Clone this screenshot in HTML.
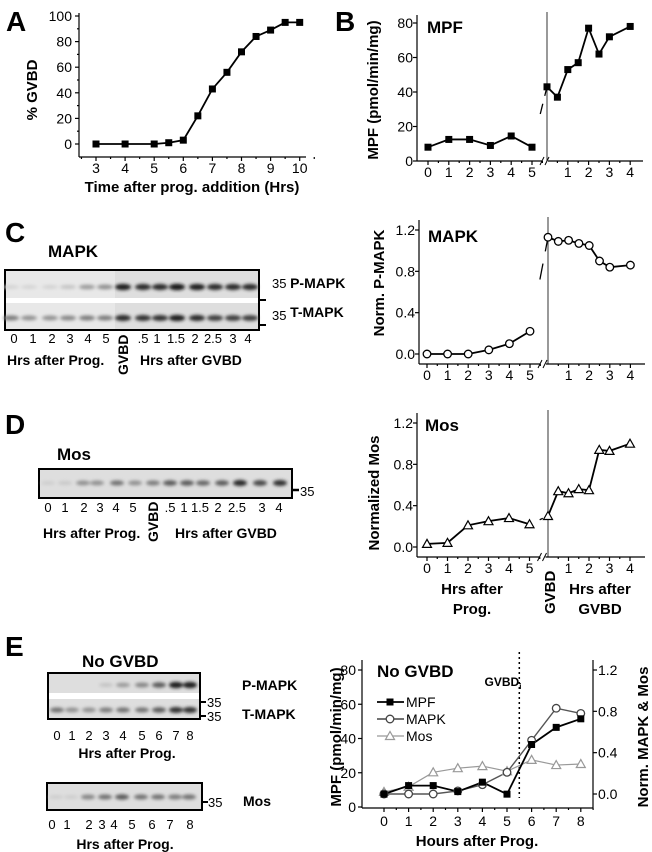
<!DOCTYPE html>
<html><head><meta charset="utf-8"><style>
html,body{margin:0;padding:0;background:#fff;}
svg{display:block;font-family:"Liberation Sans",Arial,sans-serif;}
.b{font-weight:bold;}
</style></head><body>
<svg id="fig" width="652" height="852" viewBox="0 0 652 852" xmlns="http://www.w3.org/2000/svg">
<defs><filter id="blur" x="-50%" y="-50%" width="200%" height="200%"><feGaussianBlur stdDeviation="1.5"/></filter></defs>
<text x="6" y="31" class="b" font-size="28">A</text>
<text x="335" y="31" class="b" font-size="28">B</text>
<text x="5" y="242" class="b" font-size="28">C</text>
<text x="5" y="434" class="b" font-size="28">D</text>
<text x="5" y="656" class="b" font-size="28">E</text>

<text transform="translate(37,90) rotate(-90)" text-anchor="middle" class="b" font-size="15">% GVBD</text>
<text x="192" y="192" text-anchor="middle" class="b" font-size="15">Time after prog. addition (Hrs)</text>
<text transform="translate(378,90) rotate(-90)" text-anchor="middle" class="b" font-size="15">MPF (pmol/min/mg)</text>
<text x="427" y="33" class="b" font-size="17">MPF</text>

<text x="48" y="257" class="b" font-size="17">MAPK</text>
<text transform="translate(384,283) rotate(-90)" text-anchor="middle" class="b" font-size="15">Norm. P-MAPK</text>
<text x="428" y="242" class="b" font-size="17">MAPK</text>
<text x="272" y="288" font-size="13">35 <tspan class="b" font-size="14">P-MAPK</tspan></text>
<text x="272" y="320" font-size="13">35 <tspan class="b" font-size="14" dy="-3">T-MAPK</tspan></text>
<text x="7" y="365" class="b" font-size="14">Hrs after Prog.</text>
<text x="140" y="365" class="b" font-size="14">Hrs after GVBD</text>
<text transform="translate(128,375) rotate(-90)" class="b" font-size="14">GVBD</text>

<text x="57" y="460" class="b" font-size="17">Mos</text>
<text x="300" y="496" font-size="13">35</text>
<text x="43" y="538" class="b" font-size="14">Hrs after Prog.</text>
<text x="175" y="538" class="b" font-size="14">Hrs after GVBD</text>
<text transform="translate(158,542) rotate(-90)" class="b" font-size="14">GVBD</text>
<text transform="translate(379,493) rotate(-90)" text-anchor="middle" class="b" font-size="15">Normalized Mos</text>
<text x="425" y="431" class="b" font-size="17">Mos</text>
<text x="472" y="594" text-anchor="middle" class="b" font-size="15">Hrs after</text>
<text x="472" y="614" text-anchor="middle" class="b" font-size="15">Prog.</text>
<text transform="translate(555,614) rotate(-90)" class="b" font-size="15">GVBD</text>
<text x="600" y="594" text-anchor="middle" class="b" font-size="15">Hrs after</text>
<text x="600" y="614" text-anchor="middle" class="b" font-size="15">GVBD</text>

<text x="82" y="667" class="b" font-size="17">No GVBD</text>
<text x="242" y="690" class="b" font-size="14">P-MAPK</text>
<text x="242" y="719" class="b" font-size="14">T-MAPK</text>
<text x="207" y="707" font-size="13">35</text>
<text x="207" y="721" font-size="13">35</text>
<text x="127" y="758" text-anchor="middle" class="b" font-size="14">Hrs after Prog.</text>
<text x="243" y="806" class="b" font-size="14">Mos</text>
<text x="208" y="807" font-size="13">35</text>
<text x="125" y="849" text-anchor="middle" class="b" font-size="14">Hrs after Prog.</text>
<text transform="translate(341,737) rotate(-90)" text-anchor="middle" class="b" font-size="15">MPF (pmol/min/mg)</text>
<text transform="translate(648,737) rotate(-90)" text-anchor="middle" class="b" font-size="15">Norm. MAPK &amp; Mos</text>
<text x="477" y="846" text-anchor="middle" class="b" font-size="15">Hours after Prog.</text>
<text x="377" y="677" class="b" font-size="17">No GVBD</text>
<text x="503" y="686" text-anchor="middle" class="b" font-size="12">GVBD<tspan font-size="8" dy="3">i</tspan></text>
</svg>
<script>
// ---------- DATA ----------
const aHours=[3,4,5,5.5,6,6.5,7,7.5,8,8.5,9,9.5,10];
const aGVBD=[0,0,0,1,3,22,43,56,72,84,89,95,95];
const aYTicks=[0,20,40,60,80,100];
const aXTicks=[3,4,5,6,7,8,9,10];

const bLeftHours=[0,1,2,3,4,5];
const bLeftMPF=[8,12.5,12.5,9,14.5,8];
const bRightHours=[0,0.5,1,1.5,2,2.5,3,4];
const bRightMPF=[43,37,53,57,77,62,72,78];
const bYTicks=[0,20,40,60,80];

const cLeftHours=[0,1,2,3,4,5];
const cLeftMAPK=[0,0,0,0.04,0.1,0.22];
const cRightHours=[0,0.5,1,1.5,2,2.5,3,4];
const cRightMAPK=[1.13,1.09,1.1,1.07,1.05,0.9,0.84,0.86];
const cYTicks=[0,0.4,0.8,1.2];

const dLeftHours=[0,1,2,3,4,5];
const dLeftMos=[0.03,0.04,0.21,0.25,0.28,0.22];
const dRightHours=[0,0.5,1,1.5,2,2.5,3,4];
const dRightMos=[0.3,0.54,0.52,0.56,0.55,0.94,0.93,1.0];
const dYTicks=[0,0.4,0.8,1.2];

const eHours=[0,1,2,3,4,5,6,7,8];
const eMPF=[7.5,12.5,12.5,9,14.5,7.5,36.5,46.5,51.5];
const eMAPK=[0,0,0,0.03,0.09,0.21,0.52,0.83,0.78];
const eMos=[0.02,0.07,0.21,0.25,0.27,0.22,0.33,0.28,0.29];
const eYTicks=[0,20,40,60,80];
const eY2Ticks=[0,0.4,0.8,1.2];

const cLaneLabels=["0","1","2","3","4","5","",".5","1","1.5","2","2.5","3","4"];
const cPBand=[0.02,0.02,0.03,0.1,0.3,0.35,0.9,0.85,0.85,0.95,0.9,0.85,0.85,0.85];
const cTBand=[0.45,0.35,0.35,0.4,0.45,0.45,0.85,0.8,0.8,0.9,0.85,0.75,0.75,0.75];
const dLaneLabels=["0","1","2","3","4","5","",".5","1","1.5","2","2.5","3","4"];
const dMosBand=[0.05,0.08,0.35,0.35,0.5,0.35,0.45,0.6,0.6,0.55,0.6,0.85,0.7,0.8];
const eLaneLabels=["0","1","2","3","4","5","6","7","8"];
const ePBand=[0,0,0,0.1,0.3,0.4,0.6,0.9,0.9];
const eTBand=[0.5,0.35,0.35,0.45,0.5,0.5,0.6,0.8,0.8];
const eMosBand=[0.05,0.05,0.4,0.5,0.6,0.5,0.5,0.45,0.5];

// ---------- HELPERS ----------
const svg=document.getElementById('fig');
const NS='http://www.w3.org/2000/svg';
function mk(tag,attrs,parent){const e=document.createElementNS(NS,tag);for(const k in attrs)e.setAttribute(k,attrs[k]);(parent||svg).appendChild(e);return e;}
function line(x1,y1,x2,y2,w,col,dash){const l=mk('line',{x1,y1,x2,y2,stroke:col||'#000','stroke-width':w||1.2});if(dash)l.setAttribute('stroke-dasharray',dash);return l;}
function txt(x,y,s,fs,anchor){const t=mk('text',{x,y,'font-size':fs||14,'text-anchor':anchor||'middle'});t.textContent=s;return t;}
function marker(type,x,y,col){
  let m;
  if(type==='sq'){m=mk('rect',{x:x-3.5,y:y-3.5,width:7,height:7,fill:col||'#000'});}
  else if(type==='ci'){m=mk('circle',{cx:x,cy:y,r:3.8,fill:'#fff',stroke:col||'#000','stroke-width':1.3});}
  else {m=mk('polygon',{points:`${x},${y-4.5} ${x-4.5},${y+3.5} ${x+4.5},${y+3.5}`,fill:'#fff',stroke:col||'#000','stroke-width':1.2});}
  return m;
}
function polyline(pts,col,w){return mk('polyline',{points:pts.map(p=>p.join(',')).join(' '),fill:'none',stroke:col||'#000','stroke-width':w||1.8});}

// ---------- PANEL A ----------
{
  const X=h=>96+(h-3)*29.1, Y=v=>144-v*1.28;
  line(79,13,79,157);line(79,157,306,157);
  aYTicks.forEach(v=>{line(75,Y(v),79,Y(v));const t=txt(72,Y(v)+5,String(v),14,'end');
    
    });
  for(let v=10;v<=100;v+=20)line(77,Y(v),79,Y(v));
  aXTicks.forEach(h=>{line(X(h),157,X(h),161);const t=txt(X(h),173,String(h),14);
    
    });
  for(let h=2.5;h<=10.5;h+=1)line(X(h),157,X(h),159);
  const p=polyline(aHours.map((h,i)=>[X(h),Y(aGVBD[i])]));
  
  
  aHours.forEach((h,i)=>{const m=marker('sq',X(h),Y(aGVBD[i]));
    
    });
}

function brokenChart(cfg){
  const {ax,ay0,axisY,xL0,xR0,dx,yScale,ticks,fmt,Lh,Lv,Rh,Rv,type,name,yAxisTop,axisEnd}=cfg;
  const Y=v=>ay0-v*yScale, XL=h=>xL0+h*dx, XR=h=>xR0+h*dx;
  line(ax,yAxisTop,ax,axisY);
  line(ax,axisY,XL(5)+10,axisY);
  line(XL(5)+16,axisY,axisEnd,axisY);
  line(XL(5)+8,axisY+4,XL(5)+12,axisY-4,1);line(XL(5)+13,axisY+4,XL(5)+17,axisY-4,1);
  line(xR0,yAxisTop-3,xR0,axisY,0.8);
  ticks.forEach(v=>{line(ax-4,Y(v),ax,Y(v));const t=txt(ax-4,Y(v)+5,fmt(v),14,'end');
    
    });
  [0,1,2,3,4,5].forEach(h=>{line(XL(h),axisY,XL(h),axisY+4);line(XL(h)+dx/2,axisY,XL(h)+dx/2,axisY+2);
    const t=txt(XL(h),axisY+16,String(h),14);
    
    });
  [1,2,3,4].forEach(h=>{line(XR(h),axisY,XR(h),axisY+4);line(XR(h)-dx/2,axisY,XR(h)-dx/2,axisY+2);
    const t=txt(XR(h),axisY+16,String(h),14);
    
    });
  const pl=polyline(Lh.map((h,i)=>[XL(h),Y(Lv[i])]));
  
  
  const pr=polyline(Rh.map((h,i)=>[XR(h),Y(Rv[i])]));
  
  
  const x1=XL(Lh[Lh.length-1]),y1=Y(Lv[Lv.length-1]),x2=XR(Rh[0]),y2=Y(Rv[0]);
  const f=t=>[x1+(x2-x1)*t,y1+(y2-y1)*t];
  const a=f(0.55),b=f(0.72),c=f(0.85);
  line(a[0],a[1],b[0],b[1],1.3);line(c[0],c[1],x2,y2,1.3);
  Lh.forEach((h,i)=>{const m=marker(type,XL(h),Y(Lv[i]));
    
    });
  Rh.forEach((h,i)=>{const m=marker(type,XR(h),Y(Rv[i]));
    
    });
}
brokenChart({ax:417,ay0:161,axisY:161,xL0:428,xR0:547,dx:20.8,yScale:138/80,ticks:bYTicks,fmt:v=>String(v),
  Lh:bLeftHours,Lv:bLeftMPF,Rh:bRightHours,Rv:bRightMPF,type:'sq',name:'b-mpf',yAxisTop:15,axisEnd:643});
brokenChart({ax:419,ay0:354,axisY:364,xL0:427,xR0:548,dx:20.6,yScale:124/1.2,ticks:cYTicks,fmt:v=>v.toFixed(1),
  Lh:cLeftHours,Lv:cLeftMAPK,Rh:cRightHours,Rv:cRightMAPK,type:'ci',name:'c-mapk',yAxisTop:220,axisEnd:645});
brokenChart({ax:417,ay0:547,axisY:557,xL0:427,xR0:548,dx:20.5,yScale:124/1.2,ticks:dYTicks,fmt:v=>v.toFixed(1),
  Lh:dLeftHours,Lv:dLeftMos,Rh:dRightHours,Rv:dRightMos,type:'tr',name:'d-mos',yAxisTop:413,axisEnd:645});

// ---------- PANEL E chart ----------
{
  const X=h=>384+h*24.6, Y=v=>807-v*(137/80), Y2=v=>794-v*(124/1.2);
  line(362,660,362,808);line(362,808,593,808);line(593,660,593,808);
  eYTicks.forEach(v=>{line(358,Y(v),362,Y(v));const t=txt(356,Y(v)+5,String(v),14,'end');
    
    });
  eY2Ticks.forEach(v=>{line(593,Y2(v),597,Y2(v));const t=txt(598,Y2(v)+5,v.toFixed(1),14,'start');
    
    });
  eHours.forEach(h=>{line(X(h),808,X(h),812);line(X(h)+12.3,808,X(h)+12.3,810);const t=txt(X(h),826,String(h),14);
    
    });
  line(X(5.5),652,X(5.5),798,1.5,'#000','2,3');
  const pm=polyline(eHours.map((h,i)=>[X(h),Y2(eMos[i])]),'#999',1.2);
  
  
  const pk=polyline(eHours.map((h,i)=>[X(h),Y2(eMAPK[i])]),'#555',1.4);
  
  
  const pf=polyline(eHours.map((h,i)=>[X(h),Y(eMPF[i])]),'#000',1.8);
  
  
  eHours.forEach((h,i)=>{const m=marker('tr',X(h),Y2(eMos[i]),'#999');
    
    });
  eHours.forEach((h,i)=>{const m=marker('ci',X(h),Y2(eMAPK[i]),'#444');
    
    });
  eHours.forEach((h,i)=>{const m=marker('sq',X(h),Y(eMPF[i]));
    
    });
  const leg=[['MPF','sq','#000',1.8],['MAPK','ci','#444',1.4],['Mos','tr','#999',1.2]];
  leg.forEach((L,i)=>{const y=702+i*17;line(377,y,404,y,L[3],L[2]);marker(L[1],390,y,L[2]);
    const t=txt(406,y+5,L[0],14,'start');
    
    });
}

// ---------- BLOTS ----------
function blot(x,y,w,h,name){const r=mk('rect',{x,y,width:w,height:h,fill:'#dedede',stroke:'#000','stroke-width':2});
  
  return r;}
function bands(xs,yc,ints,bw,bh){const g=mk('g',{filter:'url(#blur)'});
  xs.forEach((x,i)=>{const v=ints[i];if(v<=0)return;const sh=Math.round(215-205*v);
    const e=mk('ellipse',{cx:x,cy:yc,rx:bw,ry:bh*(0.6+0.5*v),fill:`rgb(${sh},${sh},${sh})`},g);
    
    });}
function laneLabels(xs,labs,y,name){xs.forEach((x,i)=>{if(!labs[i])return;const t=txt(x,y,labs[i],13);
  
  });}
// C blot
const cBandX=[11,29,50,68,87,105,123,143,160,177,197,215,233,250];
const cLabelX=[14,33,52,70,88,106,0,143,157,176,195,213,233,248];
blot(5,270,254,60,'c-mapk-blot');
mk('rect',{x:6,y:271,width:109,height:58,fill:'#e8e8e8'});
mk('rect',{x:6,y:298,width:252,height:5,fill:'#fff'});
bands(cBandX,287,cPBand,8,3);
bands(cBandX,318,cTBand,8,3);
line(259,300,266,300,2);line(259,325,266,325,2);
laneLabels(cLabelX,cLaneLabels,343,'c-lane-label');
// D blot
const dBandX=[48,65,83,97,117,135,153,170,187,203,222,240,260,280];
const dLabelX=[48,65,84,100,116,133,0,170,184,200,218,237,262,279];
blot(39,469,253,29,'d-mos-blot');
bands(dBandX,483,dMosBand,7,3);
line(292,490,299,490,2.5);
laneLabels(dLabelX,dLaneLabels,512,'d-lane-label');
// E blots
const eLaneX=[57,72,89,106,123,142,159,176,190];
blot(48,673,152,46,'e-mapk-blot');
mk('rect',{x:49,y:693,width:150,height:6,fill:'#fff'});
bands(eLaneX,685,ePBand,7,3);
bands(eLaneX,710,eTBand,7,3);
line(200,702,206,702,2);line(200,716,206,716,2);
blot(47,783,155,27,'e-mos-blot');
bands(eLaneX.map(x=>x-1),797,eMosBand,7,3);
line(202,802,208,802,2);
laneLabels(eLaneX,eLaneLabels,740,'e-lane-label');
laneLabels([52,67,89,102,114,132,152,170,190],eLaneLabels,829,'e-mos-lane-label');
</script>
</body></html>
